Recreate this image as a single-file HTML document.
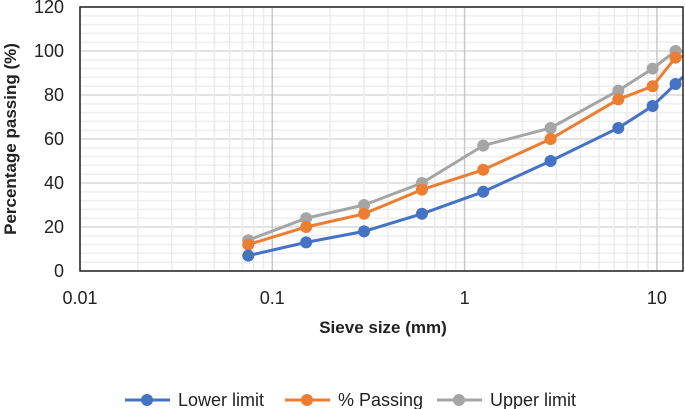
<!DOCTYPE html>
<html><head><meta charset="utf-8"><style>
body{margin:0;background:#fff;}
svg{display:block;font-family:"Liberation Sans Narrow","Liberation Sans",sans-serif;}
</style></head><body>
<svg id="chart" width="685" height="409">
<defs><clipPath id="pc"><rect x="80" y="7" width="603" height="264"/></clipPath></defs>
<g id="grid"></g>
<g id="series" clip-path="url(#pc)"></g>
<rect x="80" y="7" width="603" height="264" fill="none" stroke="#222" stroke-width="1.5"/>
<g id="ticks" font-size="18" fill="#222"></g>
<text x="383" y="333" text-anchor="middle" font-size="17" font-weight="bold" fill="#222">Sieve size (mm)</text>
<text transform="translate(16,139) rotate(-90)" text-anchor="middle" font-size="17" font-weight="bold" fill="#222">Percentage passing (%)</text>
<g id="legend" font-size="18" fill="#222"></g>
</svg>
<script>
const sizes=[0.075,0.15,0.3,0.6,1.25,2.8,6.3,9.5,12.5,19];
const lower=[7,13,18,26,36,50,65,75,85,100];
const passing=[12,20,26,37,46,60,78,84,97,100];
const upper=[14,24,30,40,57,65,82,92,100,100];
const xTicks=[0.01,0.1,1,10];
const xTickLabels=["0.01","0.1","1","10"];
const yTicks=[0,20,40,60,80,100,120];
const seriesNames=["Lower limit","% Passing","Upper  limit"];
const NS="http://www.w3.org/2000/svg";
const X=v=>80+192.3*(Math.log10(v)+2);
const Y=v=>271-2.2*v;
function mk(t,a,p){const e=document.createElementNS(NS,t);for(const k in a)e.setAttribute(k,a[k]);p.appendChild(e);return e;}
const grid=document.getElementById('grid');
for(let v=0;v<=120;v+=4){const l=mk('line',{x1:80,x2:683,y1:Y(v),y2:Y(v),stroke:v%20?'#eeeeee':'#d9d9d9','stroke-width':1.5},grid);

}
for(let d=0.01;d<20;d*=10){for(let m=1;m<10;m++){const v=d*m;const x=X(v);if(x>683)break;const l=mk('line',{x1:x,x2:x,y1:7,y2:271,stroke:m==1?'#c8c8c8':'#ececec','stroke-width':1.5},grid);

}}
const ticks=document.getElementById('ticks');
xTicks.forEach((v,i)=>{const t=mk('text',{x:X(v),y:304,'text-anchor':'middle'},ticks);t.textContent=xTickLabels[i];

});
yTicks.forEach(v=>{const t=mk('text',{x:64,y:Y(v)+6,'text-anchor':'end'},ticks);t.textContent=v;

});
const colors=['#4472c4','#ed7d31','#a5a5a5'];
const data=[lower,passing,upper];
const sg=document.getElementById('series');
[2,1,0].forEach(s=>{const g=mk('g',{},sg);


const pts=sizes.map((v,i)=>X(v)+','+Y(data[s][i])).join(' ');
const pl=mk('polyline',{points:pts,fill:'none',stroke:colors[s],'stroke-width':3},g);


sizes.forEach((v,i)=>{const c=mk('circle',{cx:X(v),cy:Y(data[s][i]),r:6,fill:colors[s]},g);

});});
const lg=document.getElementById('legend');
const lx=[125,285,437];
seriesNames.forEach((n,i)=>{const g=mk('g',{},lg);


mk('line',{x1:lx[i],x2:lx[i]+45,y1:400,y2:400,stroke:colors[i],'stroke-width':3},g);
mk('circle',{cx:lx[i]+22,cy:400,r:6,fill:colors[i]},g);
const t=mk('text',{x:lx[i]+53,y:406},g);t.textContent=n;});
</script>
</body></html>
